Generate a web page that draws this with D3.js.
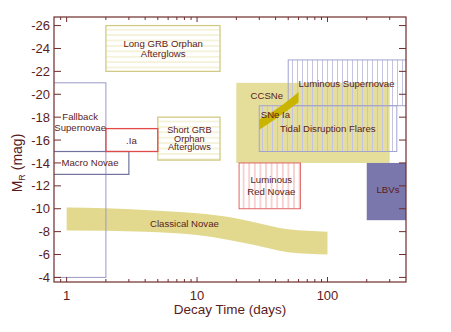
<!DOCTYPE html>
<html><head><meta charset="utf-8">
<script src="https://cdn.jsdelivr.net/npm/d3@7"></script>
<style>
html,body{margin:0;padding:0;background:#fff;}
text{font-family:"Liberation Sans",Arial,Helvetica,sans-serif;}
</style></head>
<body><svg id="c" width="451" height="332"></svg>
<script>
// ---- data ----
const boxNames = ["CCSNe","LBVs","Long GRB Orphan Afterglows","Short GRB Orphan Afterglows","Luminous Supernovae","Tidal Disruption Flares","Luminous Red Novae","Fallback Supernovae","Macro Novae",".Ia"];
const dayStart = [20, 200, 2, 5, 50, 30, 21, 0.5, 0.5, 2];
const dayEnd   = [300, 1000, 15, 15, 1000, 340, 62, 2, 3, 5];
const magBright= [-21, -14, -26, -18, -23, -19, -14, -21, -15, -17];
const magFaint = [-14, -9, -22, -14.25, -19, -15, -10, -4, -13, -15];

const novaDays   = [1, 4, 10, 18, 27, 50, 100];
const novaBright = [-10.1, -9.9, -9.6, -9.25, -8.85, -8.2, -8.0];
const novaFaint  = [-8.1, -8.0, -7.7, -7.25, -6.85, -6.2, -6.0];

const snIaDays   = [30, 43, 60];
const snIaBright = [-17.8, -18.9, -20.2];
const snIaFaint  = [-16.9, -18.1, -19.3];

const xTickValues = [1, 10, 100];
const xTickLabels = ["1", "10", "100"];
const xMinorTicks = [0.9,2,3,4,5,6,7,8,9,20,30,40,50,60,70,80,90,200,300];
const yTickValues = [-26,-24,-22,-20,-18,-16,-14,-12,-10,-8,-6,-4];
const yTickLabels = ["-26","-24","-22","-20","-18","-16","-14","-12","-10","-8","-6","-4"];

// ---- layout ----
const L = 54, R = 406, T = 17, B = 282;
const axisCol = "#6e2c2c", textCol = "#5a1c1c";
const khaki = "#e5dd9a";
const svg = d3.select("#c");
const x = d3.scaleLog().domain([0.8, 400]).range([L, R]);
const y = d3.scaleLinear().domain([-26.75, -3.6]).range([T, B]);

const defs = svg.append("defs");
defs.append("clipPath").attr("id","clip").append("rect")
  .attr("x",L).attr("y",T).attr("width",R-L).attr("height",B-T);
function hatch(id, col, vertical, sp){
  const p = defs.append("pattern").attr("id",id).attr("patternUnits","userSpaceOnUse")
    .attr("width", vertical?sp:10).attr("height", vertical?10:sp);
  if(vertical) p.append("line").attr("x1",sp/2).attr("x2",sp/2).attr("y1",0).attr("y2",10).attr("stroke",col).attr("stroke-width",1);
  else p.append("line").attr("y1",sp/2).attr("y2",sp/2).attr("x1",0).attr("x2",10).attr("stroke",col).attr("stroke-width",1);
}
hatch("hy","#ece7b8",false,5.4);
hatch("hb","#c4c4e0",true,5);
hatch("hr","#eeaaaa",true,5.6);

const styles = {
  "CCSNe": {fill: khaki, stroke: "none"},
  "LBVs": {fill: "#7a77ad", stroke: "none"},
  "Long GRB Orphan Afterglows": {fill: "url(#hy)", stroke: "#d2ca84", sw: 1.3},
  "Short GRB Orphan Afterglows": {fill: "url(#hy)", stroke: "#d2ca84", sw: 1.3},
  "Luminous Supernovae": {fill: "url(#hb)", stroke: "#a3a3cf", sw: 1},
  "Tidal Disruption Flares": {fill: "url(#hb)", stroke: "#a3a3cf", sw: 1},
  "Luminous Red Novae": {fill: "url(#hr)", stroke: "#e06666", sw: 1},
  "Fallback Supernovae": {fill: "none", stroke: "#9a9ac6", sw: 1},
  "Macro Novae": {fill: "none", stroke: "#72729e", sw: 1.2},
  ".Ia": {fill: "none", stroke: "#e24a4a", sw: 1.3}
};

const g = svg.append("g").attr("clip-path","url(#clip)");
const boxes = boxNames.map((n,i)=>({n, d0:dayStart[i], d1:dayEnd[i], m0:magBright[i], m1:magFaint[i]}));

const areaN = d3.area().x(d=>x(d.d)).y0(d=>y(d.b)).y1(d=>y(d.f)).curve(d3.curveMonotoneX);
g.selectAll("rect.fill").data(boxes.filter(b=>b.n==="CCSNe"||b.n==="LBVs")).join("rect")
  .attr("x",b=>x(b.d0)).attr("y",b=>y(b.m0)).attr("width",b=>x(b.d1)-x(b.d0)).attr("height",b=>y(b.m1)-y(b.m0))
  .attr("fill",b=>styles[b.n].fill);
g.append("path").datum(novaDays.map((d,i)=>({d, b:novaBright[i], f:novaFaint[i]})))
  .attr("d",areaN).attr("fill","#e2d98f");
g.selectAll("rect.box").data(boxes.filter(b=>b.n!=="CCSNe"&&b.n!=="LBVs")).join("rect")
  .attr("x",b=>x(b.d0)).attr("y",b=>y(b.m0)).attr("width",b=>x(b.d1)-x(b.d0)).attr("height",b=>y(b.m1)-y(b.m0))
  .attr("fill",b=>styles[b.n].fill).attr("stroke",b=>styles[b.n].stroke).attr("stroke-width",b=>styles[b.n].sw);
g.append("path").datum(snIaDays.map((d,i)=>({d, b:snIaBright[i], f:snIaFaint[i]})))
  .attr("d",areaN).attr("fill","#c9b500");

// labels (anchor in data space)
const labels = [
  {t:["Long GRB Orphan","Afterglows"], d:5.5, m:-24.15, lh:10.7},
  {t:["Fallback","Supernovae"], d:1.27, m:-17.75, lh:11},
  {t:["Macro Novae"], d:1.51, m:-13.69},
  {t:[".Ia"], d:3.14, m:-15.65},
  {t:["Short GRB","Orphan","Afterglows"], d:8.73, m:-16.65, lh:8.9, fs:9.2},
  {t:["CCSNe"], d:34.3, m:-19.58},
  {t:["Luminous Supernovae"], d:140, m:-20.67},
  {t:["SNe Ia"], d:30.8, m:-17.97, a:"start"},
  {t:["Tidal Disruption Flares"], d:100.5, m:-16.74},
  {t:["Luminous","Red Novae"], d:37.1, m:-12.29, lh:12.5},
  {t:["LBVs"], d:291, m:-11.37},
  {t:["Classical Novae"], d:8.0, m:-8.44}
];
labels.forEach(l=>{
  const te = svg.append("text").attr("font-size",l.fs||9.6).attr("fill",textCol).attr("text-anchor",l.a||"middle");
  l.t.forEach((s,i)=>te.append("tspan").attr("x",x(l.d)).attr("y",y(l.m)+i*(l.lh||0)).text(s));
});

// frame & ticks
svg.append("rect").attr("x",L).attr("y",T).attr("width",R-L).attr("height",B-T)
  .attr("fill","none").attr("stroke",axisCol).attr("stroke-width",1.2);
const tk = svg.append("g").attr("stroke",axisCol).attr("stroke-width",1);
yTickValues.forEach(v=>{
  tk.append("line").attr("x1",L).attr("x2",L+7).attr("y1",y(v)).attr("y2",y(v));
  tk.append("line").attr("x1",R).attr("x2",R-7).attr("y1",y(v)).attr("y2",y(v));
});
xTickValues.forEach(v=>{
  tk.append("line").attr("x1",x(v)).attr("x2",x(v)).attr("y1",B).attr("y2",B-5);
  tk.append("line").attr("x1",x(v)).attr("x2",x(v)).attr("y1",T).attr("y2",T+5);
});
xMinorTicks.forEach(v=>{
  tk.append("line").attr("x1",x(v)).attr("x2",x(v)).attr("y1",B).attr("y2",B-3);
  tk.append("line").attr("x1",x(v)).attr("x2",x(v)).attr("y1",T).attr("y2",T+3);
});
svg.selectAll("text.yt").data(yTickValues).join("text")
  .attr("x",L-4).attr("y",v=>y(v)+4.6).attr("text-anchor","end").attr("font-size",13).attr("fill",textCol)
  .text((v,i)=>yTickLabels[i]);
svg.selectAll("text.xt").data(xTickValues).join("text")
  .attr("x",v=>x(v)).attr("y",300).attr("text-anchor","middle").attr("font-size",13).attr("fill",textCol)
  .text((v,i)=>xTickLabels[i]);
svg.append("text").attr("x",(L+R)/2).attr("y",314).attr("text-anchor","middle").attr("font-size",13.5)
  .attr("fill",textCol).text("Decay Time (days)");
const yt = svg.append("text").attr("transform","translate(22,163) rotate(-90)").attr("text-anchor","middle")
  .attr("font-size",14).attr("fill",textCol);
yt.append("tspan").text("M");
yt.append("tspan").attr("font-size",9).attr("dy",3).text("R");
yt.append("tspan").attr("dy",-3).text(" (mag)");
</script></body></html>
